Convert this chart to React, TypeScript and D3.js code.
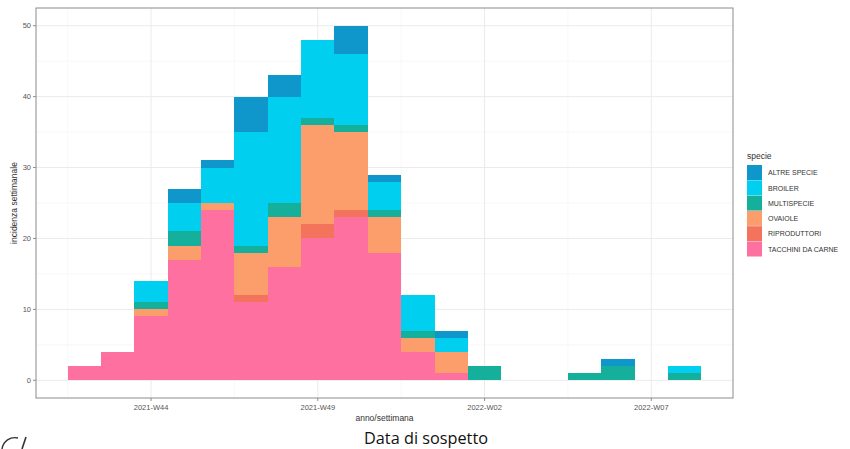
import React from "react";
import * as d3 from "d3";

const weeks = [
  "2021-W42", "2021-W43", "2021-W44", "2021-W45", "2021-W46", "2021-W47", "2021-W48",
  "2021-W49", "2021-W50", "2021-W51", "2021-W52", "2022-W01", "2022-W02", "2022-W03",
  "2022-W04", "2022-W05", "2022-W06", "2022-W07", "2022-W08",
];
const tacchini = [2, 4, 9, 17, 24, 11, 16, 20, 23, 18, 4, 1, 0, 0, 0, 0, 0, 0, 0];
const riproduttori = [0, 0, 0, 0, 0, 1, 0, 2, 1, 0, 0, 0, 0, 0, 0, 0, 0, 0, 0];
const ovaiole = [0, 0, 1, 2, 1, 6, 7, 14, 11, 5, 2, 3, 0, 0, 0, 0, 0, 0, 0];
const multispecie = [0, 0, 1, 2, 0, 1, 2, 1, 1, 1, 1, 0, 2, 0, 0, 1, 2, 0, 1];
const broiler = [0, 0, 3, 4, 5, 16, 15, 11, 10, 4, 5, 2, 0, 0, 0, 0, 0, 0, 1];
const altreSpecie = [0, 0, 0, 2, 1, 5, 3, 0, 4, 1, 0, 1, 0, 0, 0, 0, 1, 0, 0];

const speciesNames = ["ALTRE SPECIE", "BROILER", "MULTISPECIE", "OVAIOLE", "RIPRODUTTORI", "TACCHINI DA CARNE"];
const speciesColors = ["#0f97cb", "#00cff0", "#15b09c", "#fb9e6c", "#f4735c", "#fe70a0"];
const xTickLabels = ["2021-W44", "2021-W49", "2022-W02", "2022-W07"];
const yTicks = [0, 10, 20, 30, 40, 50];

const seriesValues = [altreSpecie, broiler, multispecie, ovaiole, riproduttori, tacchini];

export default function App() {
  const W = 850, H = 449;
  const pL = 36, pR = 733, pT = 8, pB = 398;
  const x = d3.scaleLinear().domain([-1.45, weeks.length - 1 + 1.45]).range([pL, pR]);
  const y = d3.scaleLinear().domain([-2.5, 52.5]).range([pB, pT]);

  const rows = weeks.map((w, i) => {
    const r: any = { week: w, i };
    speciesNames.forEach((s, k) => (r[s] = seriesValues[k][i]));
    return r;
  });
  const stackKeys = [...speciesNames].reverse();
  const stacked = d3.stack().keys(stackKeys)(rows);

  const majorX = xTickLabels.map((l) => weeks.indexOf(l));
  const minorX = [-0.5, 4.5, 9.5, 14.5];
  const minorY = [5, 15, 25, 35, 45];
  const font = "'Liberation Sans', Arial, sans-serif";

  return (
    <svg width={W} height={H} style={{ position: "absolute", left: 0, top: 0, background: "#fff" }}>
      <rect x={0} y={0} width={W} height={H} fill="#fff" />
      {/* grid */}
      {minorY.map((v) => (
        <line key={"my" + v} x1={pL} x2={pR} y1={y(v)} y2={y(v)} stroke="#f3f3f3" strokeWidth={0.6} />
      ))}
      {minorX.map((v) => (
        <line key={"mx" + v} x1={x(v)} x2={x(v)} y1={pT} y2={pB} stroke="#f3f3f3" strokeWidth={0.6} />
      ))}
      {yTicks.map((v) => (
        <line key={"gy" + v} x1={pL} x2={pR} y1={y(v)} y2={y(v)} stroke="#ebebeb" strokeWidth={1} />
      ))}
      {majorX.map((v) => (
        <line key={"gx" + v} x1={x(v)} x2={x(v)} y1={pT} y2={pB} stroke="#ebebeb" strokeWidth={1} />
      ))}
      {/* bars */}
      {stacked.map((layer) => {
        const color = speciesColors[speciesNames.indexOf(layer.key as string)];
        return layer.map((d, i) => {
          if (d[1] - d[0] <= 0) return null;
          return (
            <rect
              key={layer.key + "-" + i}
              x={x(i - 0.5)}
              width={x(i + 0.5) - x(i - 0.5)}
              y={y(d[1])}
              height={y(d[0]) - y(d[1])}
              fill={color}
              shapeRendering="crispEdges"
            />
          );
        });
      })}
      {/* panel border */}
      <rect x={pL} y={pT} width={pR - pL} height={pB - pT} fill="none" stroke="#8c8c8c" strokeWidth={1} />
      {/* y axis */}
      {yTicks.map((v) => (
        <g key={"yt" + v}>
          <line x1={pL - 3} x2={pL} y1={y(v)} y2={y(v)} stroke="#8c8c8c" />
          <text x={pL - 5} y={y(v) + 2.6} textAnchor="end" fontSize={7.5} fill="#555" fontFamily={font}>
            {v}
          </text>
        </g>
      ))}
      {/* x axis */}
      {xTickLabels.map((l) => {
        const i = weeks.indexOf(l);
        return (
          <g key={"xt" + l}>
            <line x1={x(i)} x2={x(i)} y1={pB} y2={pB + 3} stroke="#8c8c8c" />
            <text x={x(i)} y={pB + 12} textAnchor="middle" fontSize={7.5} fill="#555" fontFamily={font}>
              {l}
            </text>
          </g>
        );
      })}
      <text x={(pL + pR) / 2} y={421} textAnchor="middle" fontSize={8.5} fill="#333" fontFamily={font}>
        anno/settimana
      </text>
      <text
        transform={`translate(17,${(pT + pB) / 2}) rotate(-90)`}
        textAnchor="middle"
        fontSize={8.5}
        fill="#333"
        fontFamily={font}
      >
        incidenza settimanale
      </text>
      {/* legend */}
      <text x={747} y={159} fontSize={8.5} fill="#333" fontFamily={font}>
        specie
      </text>
      {speciesNames.map((s, k) => (
        <g key={"lg" + s}>
          <rect x={747} y={165 + k * 15.3} width={15} height={15} fill={speciesColors[k]} />
          <text x={768} y={165 + k * 15.3 + 10.2} fontSize={7} fill="#333" fontFamily={font}>
            {s}
          </text>
        </g>
      ))}
      {/* caption */}
      <text
        x={364}
        y={444}
        fontSize={15.5}
        textLength={124}
        lengthAdjust="spacingAndGlyphs"
        fill="#111"
        fontFamily="'Open Sans', 'Noto Sans', sans-serif"
      >
        Data di sospetto
      </text>
      {/* partial logo */}
      <path d="M 2 449 A 13 13 0 0 1 18 438" fill="none" stroke="#333" strokeWidth={1.4} />
      <path d="M 26 437 L 22 449" fill="none" stroke="#333" strokeWidth={1.6} />
    </svg>
  );
}
